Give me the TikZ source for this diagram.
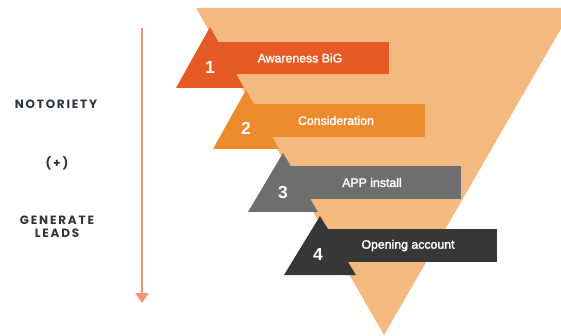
\documentclass[tikz,border=0pt]{standalone}
\usepackage{fontspec}
\usetikzlibrary{arrows.meta}
\newfontfamily\boxfont{Liberation Sans}[FakeBold=2]
\newfontfamily\numfont{Liberation Sans}
\newfontfamily\sidefont{Poppins}[LetterSpace=15]

\definecolor{funnel}{HTML}{F3B97F}
\definecolor{stepone}{HTML}{E55A25}
\definecolor{steptwo}{HTML}{EE8A2E}
\definecolor{stepthree}{HTML}{6E6E6E}
\definecolor{stepfour}{HTML}{373737}
\definecolor{arrowcol}{HTML}{F0957A}
\definecolor{sidetext}{HTML}{2D343B}

\tikzset{
  bar/.style={rectangle, inner sep=0pt, minimum width=178pt, minimum height=32.5pt,
    text=white, font=\boxfont\fontsize{12.3}{13}\selectfont},
  stepnum/.style={inner sep=0pt, text=white, font=\numfont\bfseries\fontsize{17.5}{18}\selectfont},
  sidelabel/.style={align=center, text=sidetext, inner sep=0pt,
    font=\sidefont\bfseries\fontsize{12}{12.5}\selectfont},
  timeline/.style={arrowcol, line width=2pt, -{Triangle[width=13pt,length=10pt]}}
}

\begin{document}
\begin{tikzpicture}[x=1pt,y=-1pt]
\useasboundingbox (0,0) rectangle (561,336);
\clip (0,0) rectangle (561,336);

% funnel background
\fill[funnel] (196,8) -- (573,8) -- (384,335) -- cycle;

% step tabs (triangles)
\fill[stepone]   (210,27)  -- (244,88)  -- (176,88)  -- cycle;
\fill[steptwo]   (246,90)  -- (279,149) -- (213,149) -- cycle;
\fill[stepthree] (283,153) -- (318,212) -- (248,212) -- cycle;
\fill[stepfour]  (320,216) -- (356,275) -- (284,275) -- cycle;

% step bars
\node[bar, fill=stepone]   (b1) at (300,58)    {Awareness BiG};
\node[bar, fill=steptwo]   (b2) at (336,120.5) {Consideration};
\node[bar, fill=stepthree] (b3) at (372,182.5) {APP install};
\node[bar, fill=stepfour]  (b4) at (408,245.5) {Opening account};

% step numbers
\node[stepnum] (n1) at (210,67)  {1};
\node[stepnum] (n2) at (246,128) {2};
\node[stepnum] (n3) at (283,192) {3};
\node[stepnum] (n4) at (318,254) {4};

% side labels
\node[sidelabel] (l1) at (56,104) {NOTORIETY};
\node[sidelabel] (l2) at (57,163) {(+)};
\node[sidelabel] (l3) at (57,227) {GENERATE\\LEADS};

% timeline arrow
\coordinate (t0) at (142,28);
\coordinate (t1) at (142,303);
\draw[timeline] (t0) -- (t1);
\end{tikzpicture}
\end{document}
